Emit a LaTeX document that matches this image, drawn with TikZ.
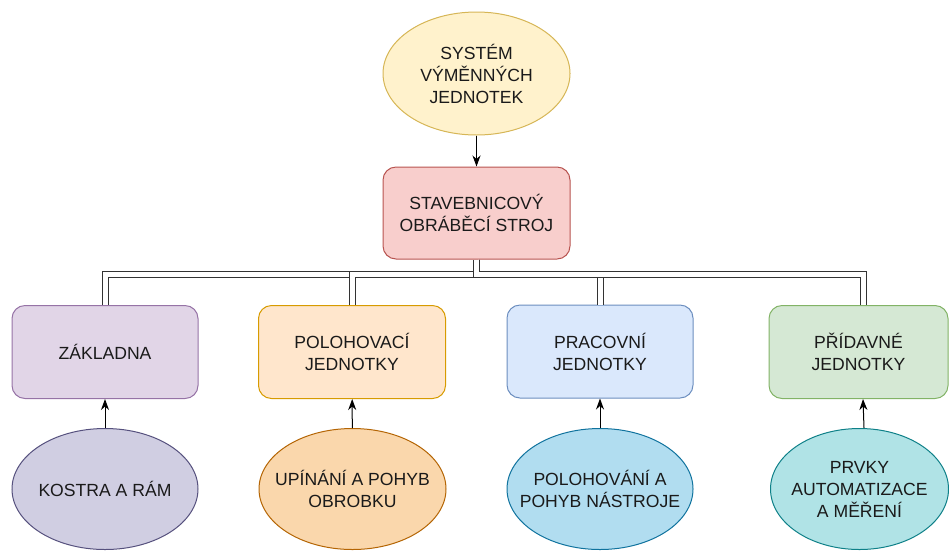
\documentclass[tikz,border=0pt]{standalone}
\usepackage{fontspec}
\setmainfont{Liberation Sans}
\usetikzlibrary{shapes.geometric,arrows.meta,calc}
\definecolor{ylwF}{HTML}{FFF2CC}\definecolor{ylwD}{HTML}{D6B656}
\definecolor{redF}{HTML}{F8CECC}\definecolor{redD}{HTML}{B85450}
\definecolor{purF}{HTML}{E1D5E7}\definecolor{purD}{HTML}{9673A6}
\definecolor{orgF}{HTML}{FFE6CC}\definecolor{orgD}{HTML}{D79B00}
\definecolor{bluF}{HTML}{DAE8FC}\definecolor{bluD}{HTML}{6C8EBF}
\definecolor{grnF}{HTML}{D5E8D4}\definecolor{grnD}{HTML}{82B366}
\definecolor{lavF}{HTML}{D0CEE2}\definecolor{lavD}{HTML}{56517E}
\definecolor{apcF}{HTML}{FAD7AC}\definecolor{apcD}{HTML}{B46504}
\definecolor{skyF}{HTML}{B1DDF0}\definecolor{skyD}{HTML}{10739E}
\definecolor{tlF}{HTML}{B0E3E6}\definecolor{tlD}{HTML}{0E8088}
\definecolor{txt}{HTML}{1A1A1A}
\tikzset{
  base/.style={inner sep=0pt, align=center, text=txt, line width=1pt,
    font=\fontsize{17.6}{22}\selectfont},
  rbox/.style={base, rectangle, rounded corners=13pt, minimum height=93pt},
  oval/.style={base, ellipse, inner xsep=-40pt, inner ysep=-25pt, minimum height=121pt},
  link/.style={draw=black!80, line width=1pt, double=white, double distance=5pt},
  arr/.style={draw=black, line width=1pt, -{Stealth[length=11pt,width=8pt,inset=3.5pt]}}
}
\begin{document}
\begin{tikzpicture}[x=1pt,y=-1pt]
\useasboundingbox (0,0) rectangle (949,550);
% top
\node[oval, fill=ylwF, draw=ylwD, minimum width=187pt, minimum height=123pt] (top) at (476.5,73.5) {SYSTÉM\\VÝMĚNNÝCH\\JEDNOTEK};
\node[rbox, fill=redF, draw=redD, minimum width=187pt, minimum height=92pt] (sos) at (476.5,213) {STAVEBNICOVÝ\\OBRÁBĚCÍ STROJ};
% units
\node[rbox, fill=purF, draw=purD, minimum width=186pt] (b1) at (105,352) {ZÁKLADNA};
\node[rbox, fill=orgF, draw=orgD, minimum width=187pt] (b2) at (352,352) {POLOHOVACÍ\\JEDNOTKY};
\node[rbox, fill=bluF, draw=bluD, minimum width=186pt] (b3) at (600,351.5) {PRACOVNÍ\\JEDNOTKY};
\node[rbox, fill=grnF, draw=grnD, minimum width=179pt] (b4) at (858.5,352) {PŘÍDAVNÉ\\JEDNOTKY};
% ovals
\node[oval, fill=lavF, draw=lavD, minimum width=186pt] (e1) at (105,489) {KOSTRA A RÁM};
\node[oval, fill=apcF, draw=apcD, minimum width=187pt] (e2) at (352.5,489) {UPÍNÁNÍ A POHYB\\OBROBKU};
\node[oval, fill=skyF, draw=skyD, minimum width=186pt] (e3) at (600,489) {POLOHOVÁNÍ A\\POHYB NÁSTROJE};
\node[oval, fill=tlF, draw=tlD, minimum width=178pt] (e4) at (859.5,489) {PRVKY\\AUTOMATIZACE\\A MĚŘENÍ};
% connectors
\draw[arr] (top) -- (sos);
\coordinate (hub) at (476.5,274.5);
\coordinate (b4in) at ($(b4.north)+(4.5,0)$);
\coordinate (e4out) at ($(e4.north)+(4.5,0)$);
\draw[link] (sos.south) -- (hub) -| (b1.north);
\draw[link] (sos.south) -- (hub) -| (b2.north);
\draw[link] (sos.south) -- (hub) -| (b3.north);
\draw[link] (sos.south) -- (hub) -| (b4in);
\draw[arr] (e1) -- (b1);
\draw[arr] (e2) -- (b2);
\draw[arr] (e3) -- (b3);
\draw[arr] (e4out) -- (b4in |- b4.south);
\end{tikzpicture}
\end{document}
